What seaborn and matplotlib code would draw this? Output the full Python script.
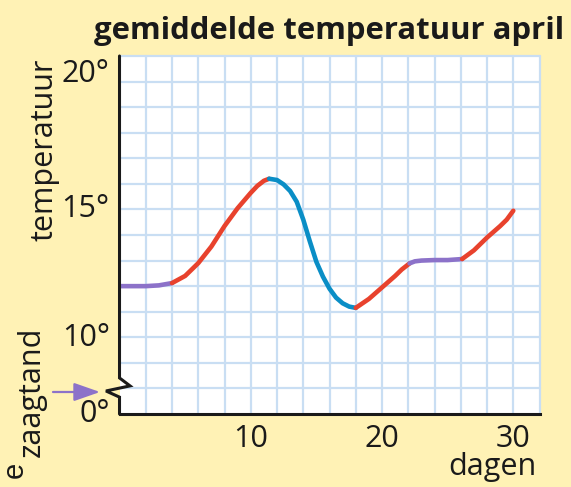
import pandas as pd
import numpy as np

import matplotlib.pyplot as plt
import seaborn as sns

sns.set_style("white")
plt.rcParams['font.family'] = ['Open Sans', 'DejaVu Sans']


# DATA

days_purple1 = [0, 1, 2, 3, 4]
temp_purple1 = [12.0, 12.0, 12.0, 12.03, 12.12]

days_red1 = [4, 5, 6, 7, 8, 9, 10, 10.5, 11, 11.4]
temp_red1 = [12.12, 12.4, 12.9, 13.55, 14.35, 15.05, 15.65, 15.92, 16.12, 16.2]

days_blue = [11.4, 12, 12.5, 13, 13.5, 14, 14.5, 15, 15.5, 16, 16.5, 17, 17.5, 18]
temp_blue = [16.2, 16.15, 15.98, 15.72, 15.3, 14.6, 13.75, 12.95, 12.37, 11.9,
             11.55, 11.33, 11.2, 11.15]

days_red2 = [18, 19, 20, 21, 21.5, 22.1]
temp_red2 = [11.15, 11.5, 11.95, 12.4, 12.65, 12.89]

days_purple2 = [22.1, 22.5, 23, 24, 25, 26.1]
temp_purple2 = [12.89, 12.97, 13.0, 13.02, 13.02, 13.06]

days_red3 = [26.1, 27, 28, 29, 29.5, 30]
temp_red3 = [13.06, 13.4, 13.9, 14.35, 14.6, 14.95]

x_ticks = [10, 20, 30]
x_labels = ['10', '20', '30']
y_labels = ['0°', '10°', '15°', '20°']

title = "gemiddelde temperatuur april"


# BUILD TABLE

parts = [
    ('p1', days_purple1, temp_purple1),
    ('r1', days_red1, temp_red1),
    ('b1', days_blue, temp_blue),
    ('r2', days_red2, temp_red2),
    ('p2', days_purple2, temp_purple2),
    ('r3', days_red3, temp_red3),
]

rows = []
for name, d, t in parts:
    for a, b in zip(d, t):
        rows.append({'deel': name, 'dag': a, 'temp': b})
df = pd.DataFrame(rows)

PURPLE = '#8c72c9'
RED = '#e8422d'
BLUE = '#0a8ec6'
palette = {'p1': PURPLE, 'r1': RED, 'b1': BLUE,
           'r2': RED, 'p2': PURPLE, 'r3': RED}

BG = '#fff2b5'
GRID = '#c9def3'
INK = '#1a1a1a'


# PLOT

fig = plt.figure(figsize=(5.71, 4.87), dpi=100, facecolor=BG)
ax = fig.add_axes([0.2093, 0.1499, 0.7356, 0.7351])
ax.set_facecolor('white')

ax.set_xlim(0, 32)
ax.set_ylim(7, 21)

# grid paper
for gx in range(2, 33, 2):
    ax.axvline(gx, color=GRID, lw=1.6, zorder=0, clip_on=False)
for gy in range(8, 22):
    ax.axhline(gy, color=GRID, lw=1.6, zorder=0, clip_on=False)

sns.lineplot(
    data=df,
    x='dag',
    y='temp',
    hue='deel',
    palette=palette,
    legend=False,
    sort=False,
    lw=3.3,
    ax=ax
)

# axes
for s in ['top', 'right', 'left']:
    ax.spines[s].set_visible(False)
ax.spines['bottom'].set_linewidth(2.2)
ax.spines['bottom'].set_color(INK)

# left axis with zaagtand (broken axis)
ax.plot([0, 0, 0.8, -1.03, 0, 0], [21, 8.41, 8.1, 7.9, 7.66, 7],
        color=INK, lw=2.2, clip_on=False, zorder=5,
        solid_joinstyle='miter')

ax.set_xticks(x_ticks)
ax.set_xticklabels(x_labels)
# 0° sits at the bottom of the broken axis, 20° drawn a bit high like the original
ax.set_yticks([7.15, 10.1, 15.15, 20.45])
ax.set_yticklabels(y_labels)
ax.tick_params(axis='both', length=0, labelsize=22, colors=INK)
ax.tick_params(axis='x', pad=7)
ax.tick_params(axis='y', pad=7)
ax.set_xlabel('')
ax.set_ylabel('')

fig.text(329.5 / 571, (487 - 39) / 487, title, ha='center', va='baseline',
         fontsize=22.4, fontweight='bold', color=INK)

fig.text(45 / 571, (487 - 150) / 487, 'temperatuur', rotation=90,
         ha='center', va='center', fontsize=22, color=INK)
fig.text(32 / 571, (487 - 392) / 487, 'zaagtand', rotation=90,
         ha='center', va='center', fontsize=22, color=INK)
fig.text(0.5 / 571, (487 - 470) / 487, 'e', rotation=90,
         ha='left', va='center', fontsize=21, color=INK,
         family='Liberation Sans')
fig.text(537 / 571, (487 - 475) / 487, 'dagen', ha='right', va='baseline',
         fontsize=22, color=INK)

ax.annotate('', xy=(100 / 571, (487 - 392) / 487),
            xytext=(53 / 571, (487 - 392) / 487),
            xycoords='figure fraction', textcoords='figure fraction',
            arrowprops=dict(arrowstyle='-|>,head_length=0.8,head_width=0.28',
                            color=PURPLE, lw=1.6, mutation_scale=20,
                            shrinkA=0, shrinkB=0))

plt.savefig('out.png', dpi=100, facecolor=BG)
